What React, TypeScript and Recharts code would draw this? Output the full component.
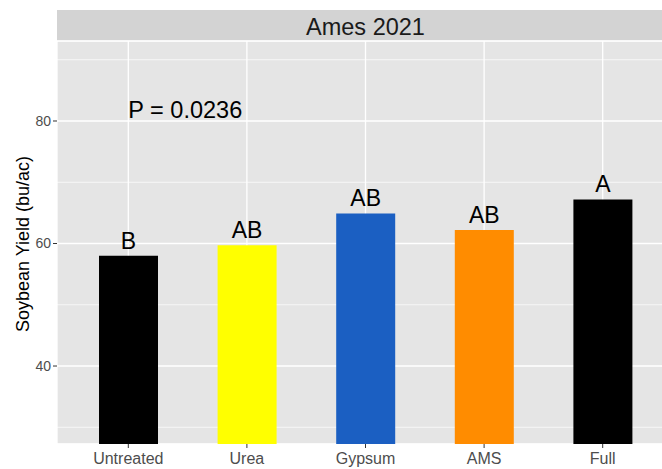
import React from 'react';
import {
  BarChart,
  Bar,
  XAxis,
  YAxis,
  CartesianGrid,
  Cell,
  LabelList,
  ReferenceDot,
} from 'recharts';

// values
const categories = ['Untreated', 'Urea', 'Gypsum', 'AMS', 'Full'];
const yields = [58.0, 59.7, 64.9, 62.2, 67.2];
const letters = ['B', 'AB', 'AB', 'AB', 'A'];
const barColors = ['#000000', '#FFFF00', '#1B5FC2', '#FF8C00', '#000000'];
const majorTicks = [40, 60, 80];
const minorTicks = [30, 50, 70, 90];
const yDomain = [27.27, 93.06];
const panelTitle = 'Ames 2021';
const yTitle = 'Soybean Yield (bu/ac)';
const pText = 'P = 0.0236';
const pValueY = 81.9;

const data = categories.map((name, i) => ({
  name,
  yield: yields[i],
  letter: letters[i],
}));

const font = "'Liberation Sans', Arial, sans-serif";

export default function App() {
  return (
    <div
      style={{
        position: 'absolute',
        left: 0,
        top: 0,
        width: 662,
        height: 469,
        overflow: 'hidden',
        background: '#fff',
        fontFamily: font,
      }}
    >
      {/* facet strip */}
      <div
        style={{
          position: 'absolute',
          left: 57,
          top: 10,
          width: 617,
          height: 31,
          background: '#D3D3D3',
          color: '#1A1A1A',
          fontSize: 23.5,
          lineHeight: '31px',
          paddingTop: 2,
          boxSizing: 'border-box',
          textAlign: 'center',
        }}
      >
        {panelTitle}
      </div>

      {/* y axis title */}
      <div
        style={{
          position: 'absolute',
          left: 23,
          top: 243.5,
          transform: 'translate(-50%, -50%) rotate(-90deg)',
          whiteSpace: 'nowrap',
          fontSize: 18,
          color: '#000',
        }}
      >
        {yTitle}
      </div>

      <BarChart
        width={674}
        height={469}
        data={data}
        margin={{ top: 41, right: 0, bottom: 0, left: 7 }}
        style={{ position: 'absolute', left: 0, top: 0 }}
      >
        <CartesianGrid fill="#E5E5E5" stroke="#FFFFFF" strokeWidth={1.3} />
        <CartesianGrid
          yAxisId="minor"
          vertical={false}
          stroke="#FFFFFF"
          strokeWidth={0.7}
        />
        <XAxis
          dataKey="name"
          height={25}
          interval={0}
          padding={{ left: 12, right: 12 }}
          axisLine={false}
          tickSize={4}
          tickMargin={5}
          tickLine={{ stroke: '#333333' }}
          tick={{ fill: '#4D4D4D', fontSize: 16 }}
        />
        <YAxis
          type="number"
          width={50}
          domain={yDomain}
          allowDataOverflow
          ticks={majorTicks}
          axisLine={false}
          tickSize={4}
          tickMargin={2}
          tickLine={{ stroke: '#333333' }}
          tick={{ fill: '#4D4D4D', fontSize: 14 }}
        />
        <YAxis
          yAxisId="minor"
          type="number"
          domain={yDomain}
          allowDataOverflow
          ticks={minorTicks}
          hide
        />
        <Bar dataKey="yield" barSize={59} isAnimationActive={false}>
          {data.map((d, i) => (
            <Cell key={d.name} fill={barColors[i]} />
          ))}
          <LabelList
            dataKey="letter"
            position="top"
            offset={7}
            fill="#000"
            fontSize={23}
          />
        </Bar>
        <ReferenceDot
          x={categories[0]}
          y={pValueY}
          r={0}
          fill="none"
          stroke="none"
          label={{
            value: pText,
            position: 'right',
            offset: 0,
            fill: '#000',
            fontSize: 23.5,
          }}
        />
      </BarChart>
    </div>
  );
}
